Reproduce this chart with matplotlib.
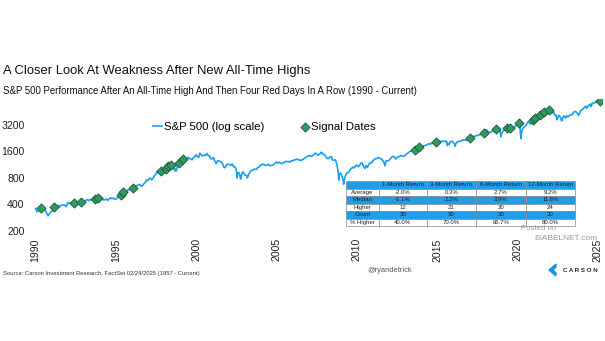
import pandas as pd
import numpy as np
import matplotlib
matplotlib.use("Agg")
import matplotlib.pyplot as plt
from matplotlib.patches import Polygon

plt.rcParams["font.family"] = ["Liberation Sans", "DejaVu Sans"]

# S&P 500 month-end levels, Jan 1990 - Jan 2025 (log scale)
spx_monthly = [
    329, 331, 340, 331, 361, 358, 356, 323, 306, 304, 322, 330,      # 1990
    344, 367, 375, 375, 390, 371, 388, 395, 388, 392, 375, 417,      # 1991
    409, 413, 404, 415, 415, 408, 424, 414, 418, 419, 431, 436,      # 1992
    439, 443, 452, 440, 450, 451, 448, 464, 459, 468, 462, 466,      # 1993
    482, 467, 446, 451, 457, 444, 458, 475, 463, 472, 454, 459,      # 1994
    470, 487, 501, 515, 533, 545, 562, 562, 584, 582, 605, 616,      # 1995
    636, 640, 646, 654, 669, 671, 640, 652, 687, 705, 757, 741,      # 1996
    786, 791, 757, 801, 848, 885, 954, 899, 947, 915, 955, 970,      # 1997
    980, 1049, 1102, 1112, 1091, 1134, 1121, 957, 1017, 1099, 1164, 1229,   # 1998
    1280, 1238, 1286, 1335, 1302, 1373, 1329, 1320, 1283, 1363, 1389, 1469,  # 1999
    1394, 1366, 1499, 1452, 1421, 1455, 1431, 1518, 1437, 1429, 1315, 1320,  # 2000
    1366, 1240, 1160, 1249, 1256, 1224, 1211, 1134, 1041, 1060, 1139, 1148,  # 2001
    1130, 1107, 1147, 1077, 1067, 990, 912, 916, 815, 886, 936, 880,         # 2002
    856, 841, 848, 917, 964, 975, 990, 1008, 996, 1051, 1058, 1112,          # 2003
    1131, 1145, 1126, 1107, 1121, 1141, 1102, 1104, 1115, 1130, 1174, 1212,  # 2004
    1181, 1204, 1181, 1157, 1192, 1191, 1234, 1220, 1229, 1207, 1249, 1248,  # 2005
    1280, 1281, 1295, 1311, 1270, 1270, 1277, 1304, 1336, 1378, 1401, 1418,  # 2006
    1438, 1407, 1421, 1482, 1531, 1503, 1455, 1474, 1527, 1549, 1481, 1468,  # 2007
    1379, 1331, 1323, 1386, 1400, 1280, 1267, 1283, 1165, 969, 896, 903,     # 2008
    826, 735, 798, 873, 919, 919, 987, 1021, 1057, 1036, 1096, 1115,         # 2009
    1074, 1104, 1169, 1187, 1089, 1031, 1102, 1049, 1141, 1183, 1181, 1258,  # 2010
    1286, 1327, 1326, 1364, 1345, 1321, 1292, 1219, 1131, 1253, 1247, 1258,  # 2011
    1312, 1366, 1408, 1398, 1310, 1362, 1379, 1407, 1441, 1412, 1416, 1426,  # 2012
    1498, 1515, 1569, 1598, 1631, 1606, 1686, 1633, 1682, 1757, 1806, 1848,  # 2013
    1783, 1859, 1872, 1884, 1924, 1960, 1931, 2003, 1972, 2018, 2068, 2059,  # 2014
    1995, 2105, 2068, 2086, 2107, 2063, 2104, 1972, 1920, 2079, 2080, 2044,  # 2015
    1940, 1932, 2060, 2065, 2097, 2099, 2174, 2171, 2168, 2126, 2199, 2239,  # 2016
    2279, 2364, 2363, 2384, 2412, 2423, 2470, 2472, 2519, 2575, 2648, 2674,  # 2017
    2824, 2714, 2641, 2648, 2705, 2718, 2816, 2902, 2914, 2712, 2760, 2507,  # 2018
    2704, 2784, 2834, 2946, 2752, 2942, 2980, 2926, 2977, 3038, 3141, 3231,  # 2019
    3226, 2954, 2585, 2912, 3044, 3100, 3271, 3500, 3363, 3270, 3622, 3756,  # 2020
    3714, 3811, 3973, 4181, 4204, 4298, 4395, 4523, 4308, 4605, 4567, 4766,  # 2021
    4516, 4374, 4530, 4132, 4132, 3785, 4130, 3955, 3586, 3872, 4080, 3840,  # 2022
    4077, 3970, 4109, 4169, 4180, 4450, 4589, 4508, 4288, 4194, 4568, 4770,  # 2023
    4846, 5096, 5254, 5036, 5278, 5460, 5522, 5648, 5762, 5705, 6032, 5882,  # 2024
    6041,                                                                    # 2025
]

# intra-month highs / lows that show up on the daily line
extra_dates = ["1990-01-02", "1990-10-11", "1998-10-08", "2000-03-24", "2002-07-23",
               "2002-10-09", "2003-03-11", "2007-10-09", "2008-11-20", "2009-03-09",
               "2010-07-02", "2011-10-03", "2015-08-25", "2016-02-11", "2018-02-08",
               "2018-12-24", "2020-02-19", "2020-03-23", "2022-01-03", "2022-06-16",
               "2022-10-12", "2023-10-27", "2024-04-19", "2024-08-05", "2025-02-19",
               "2025-02-24"]
extra_vals = [359, 295, 960, 1527, 797,
              777, 800, 1565, 752, 677,
              1022, 1099, 1867, 1829, 2581,
              2351, 3386, 2237, 4796, 3667,
              3577, 4117, 4967, 5186, 6144,
              5983]

# signal dates (ATH followed by four red days)
signal_dates = ["1990-05-01", "1991-02-15", "1992-06-01", "1992-10-30", "1993-09-10",
                "1993-11-12", "1995-04-20", "1995-06-15", "1996-01-20", "1997-10-20",
                "1998-02-10", "1998-04-05", "1998-06-05", "1998-12-15", "1999-03-15",
                "2013-08-20", "2013-11-15", "2014-12-15", "2017-01-10", "2017-11-25",
                "2018-09-10", "2019-05-10", "2019-07-20", "2020-02-01", "2020-12-10",
                "2021-01-25", "2021-05-25", "2021-08-20", "2021-12-30", "2025-02-21"]
signal_vals = [362, 372, 418, 425, 462,
               466, 515, 548, 620, 950,
               1015, 1105, 1115, 1190, 1300,
               1680, 1790, 2030, 2275, 2610,
               2900, 2920, 2990, 3330, 3670,
               3820, 4170, 4450, 4760, 6050]

year_ticks = [1990, 1995, 2000, 2005, 2010, 2015, 2020, 2025]
y_ticks = [200, 400, 800, 1600, 3200]

col_labels = ["", "1-Month Return", "3-Month Return", "6-Month Return", "12-Month Return"]
row_labels = ["Average", "Median", "Higher", "Count", "% Higher"]
ret_1m = ["-2.0%", "-1.1%", "12", "30", "40.0%"]
ret_3m = ["0.3%", "2.2%", "21", "30", "70.0%"]
ret_6m = ["2.7%", "3.9%", "20", "30", "66.7%"]
ret_12m = ["9.2%", "11.6%", "24", "30", "80.0%"]

LINE_BLUE = "#1a9fef"
TABLE_BLUE = "#1e9ee8"
GREEN = "#2e9a62"

# ---- build the series ----
dates = pd.date_range("1990-01-31", periods=len(spx_monthly), freq="ME")
spx = pd.concat([pd.Series(spx_monthly, index=dates),
                 pd.Series(extra_vals, index=pd.to_datetime(extra_dates))]).sort_index()

fig = plt.figure(figsize=(6.05, 3.41), dpi=100)
W, H = 605, 341
ax = fig.add_axes([34.2 / W, 1 - 232.6 / H, 567.5 / W, 134 / H])

ax.plot(spx.index, spx.values, color=LINE_BLUE, lw=1.2, label="S&P 500 (log scale)")
ax.scatter(pd.to_datetime(signal_dates), signal_vals, marker="D", s=22, color=GREEN,
           edgecolor="#1d5a3a", linewidth=0.6, zorder=3, label="Signal Dates")

ax.set_yscale("log")
ax.set_ylim(190, 6400)
ax.set_yticks(y_ticks)
ax.set_yticklabels([str(v) for v in y_ticks])
ax.yaxis.set_minor_locator(matplotlib.ticker.NullLocator())
ax.set_xlim(pd.Timestamp("1989-12-01"), pd.Timestamp("2025-04-01"))
ax.set_xticks([pd.Timestamp(f"{y}-01-01") for y in year_ticks])
ax.set_xticklabels([str(y) for y in year_ticks], rotation=90)
ax.tick_params(axis="both", length=0, labelsize=7.6, colors="#222222")
ax.tick_params(axis="y", pad=7)
ax.tick_params(axis="x", pad=4)
for s in ax.spines.values():
    s.set_visible(False)

leg = fig.legend(loc="center left", bbox_to_anchor=(153 / W, 1 - 126.7 / H), ncol=2,
                 frameon=False, fontsize=8.2, handlelength=0.8, handletextpad=0.15,
                 columnspacing=3.2, borderpad=0, borderaxespad=0)

# ---- stats table ----
cells = [[r, a, b, c, d] for r, a, b, c, d in zip(row_labels, ret_1m, ret_3m, ret_6m, ret_12m)]
tbl = ax.table(cellText=cells, colLabels=col_labels, cellLoc="center",
               colWidths=[0.142, 0.211, 0.214, 0.219, 0.214],
               bbox=[(346 - 34.2) / 567.5, (232.6 - 226) / 134, 229 / 567.5, 45 / 134])
tbl.auto_set_font_size(False)
tbl.set_fontsize(4.3)
for (r, c), cell in tbl.get_celld().items():
    cell.set_edgecolor("#8a8a8a")
    cell.set_linewidth(0.5)
    cell.get_text().set_color("#222222")
    if r in (0, 2, 4):
        cell.set_facecolor(TABLE_BLUE)
    else:
        cell.set_facecolor("white")
tbl.set_zorder(5)

# ---- titles and footer ----
fig.text(3 / W, 1 - 71 / H, "A Closer Look At Weakness After New All-Time Highs",
         fontsize=9.4, va="center", ha="left", color="#111111")
fig.text(3 / W, 1 - 90.5 / H,
         "S&P 500 Performance After An All-Time High And Then Four Red Days In A Row (1990 - Current)",
         fontsize=6.9, va="center", ha="left", color="#111111")
fig.text(3 / W, 1 - 273 / H,
         "Source: Carson Investment Research, FactSet 02/24/2025 (1957 - Current)",
         fontsize=4.2, va="center", ha="left", color="#333333")
fig.text(367 / W, 1 - 270 / H, "@ryandetrick", fontsize=5.4, va="center", ha="left",
         color="#555555")
fig.text(563 / W, 1 - 270 / H, "C A R S O N", fontsize=4.4, va="center", ha="left",
         color="#1b2a4a", fontweight="bold")
fig.patches.append(Polygon([[556 / W, 1 - 264 / H], [549 / W, 1 - 270 / H],
                            [556 / W, 1 - 276 / H], [556 / W, 1 - 273 / H],
                            [553 / W, 1 - 270 / H], [556 / W, 1 - 267 / H]],
                           closed=True, transform=fig.transFigure, color="#1e90e0"))

# watermark
fig.text(521 / W, 1 - 228 / H, "Posted on", fontsize=5.6, va="center", ha="left",
         color="#9a9a9a")
fig.text(534 / W, 1 - 238.5 / H, "ISABELNET.com", fontsize=6.0, va="center", ha="left",
         color="#9a9a9a")

fig.savefig("out.png", dpi=100, facecolor="white")
